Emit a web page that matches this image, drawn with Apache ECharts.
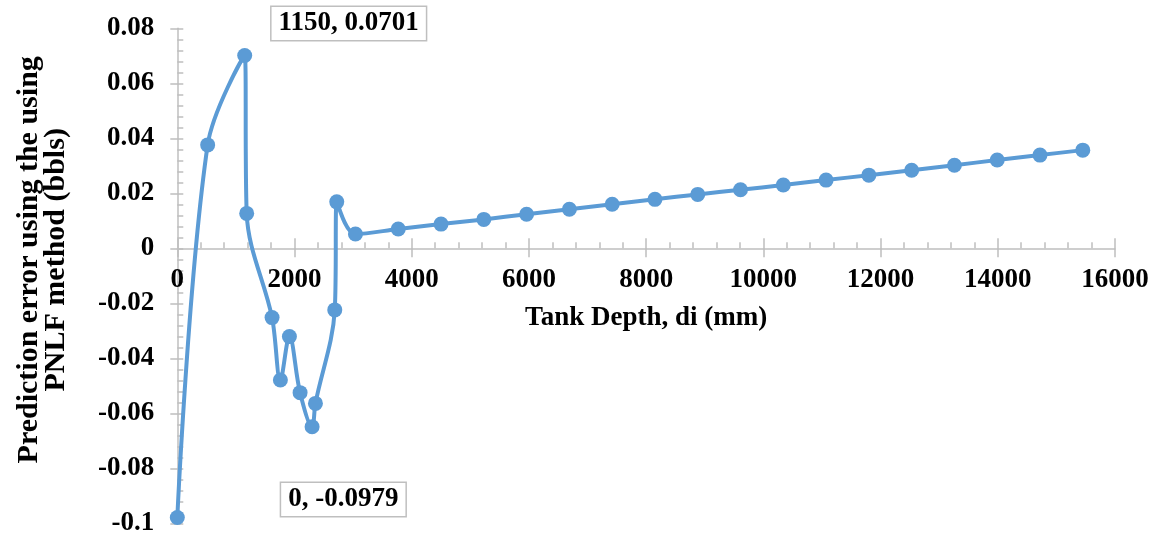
<!DOCTYPE html>
<html>
<head>
<meta charset="utf-8">
<script src="https://cdn.jsdelivr.net/npm/echarts@6/dist/echarts.min.js"></script>
<style>html,body{margin:0;padding:0;background:#fff;}#c{width:1152px;height:535px;}</style>
</head>
<body>
<div id="c"></div>
<script>
var depths = [0, 518, 1150, 1184, 1617, 1759, 1913, 2095, 2300, 2357, 2687, 2721, 3040, 3770, 4500, 5230, 5960, 6690, 7420, 8150, 8880, 9610, 10340, 11070, 11800, 12530, 13260, 13990, 14720, 15450];
var errors = [-0.0979, 0.0376, 0.0701, 0.0127, -0.0252, -0.0479, -0.0321, -0.0525, -0.0649, -0.0564, -0.0224, 0.0169, 0.0052, 0.0070, 0.0088, 0.0105, 0.0124, 0.0142, 0.0160, 0.0178, 0.0196, 0.0213, 0.0230, 0.0248, 0.0266, 0.0284, 0.0302, 0.0321, 0.0339, 0.0357];
var labelledIdx = [2, 0];
var labelTexts = ['1150, 0.0701', '0, -0.0979'];

var FONT = 'Liberation Serif';
var FS = 27;
var labelOffsets = {2: [104, -32], 0: [166, -18]};
var data = depths.map(function (d, i) {
  var item = {value: [d, errors[i]]};
  var k = labelledIdx.indexOf(i);
  if (k >= 0) {
    item.label = {
      show: true, position: 'inside', offset: labelOffsets[i],
      formatter: labelTexts[k],
      fontFamily: FONT, fontWeight: 'bold', fontSize: FS, color: '#000',
      backgroundColor: '#fff', borderColor: '#BFBFBF', borderWidth: 1.5,
      padding: [4, 7, 2, 7]
    };
  }
  return item;
});

var axisGray = '#BFBFBF';
var GRID_TOP = 28.3, GRID_BOTTOM = 11.7;
var YMIN = -0.1, YMAX = 0.08;
var gridH = 535 - GRID_TOP - GRID_BOTTOM;
var zeroShift = -gridH * (0 - YMIN) / (YMAX - YMIN);

var chart = echarts.init(document.getElementById('c'));
chart.setOption({
  animation: false,
  grid: {left: 177.3, right: 37, top: GRID_TOP, bottom: GRID_BOTTOM, containLabel: false, outerBoundsMode: 'none'},
  xAxis: [{
    type: 'value', min: 0, max: 16000, interval: 2000, position: 'bottom', offset: zeroShift,
    name: 'Tank Depth, di (mm)', nameLocation: 'middle', nameGap: 56,
    nameTextStyle: {fontFamily: FONT, fontWeight: 'bold', fontSize: FS, color: '#000'},
    axisLine: {show: true, onZero: false, lineStyle: {color: axisGray, width: 1.5}},
    axisTick: {show: true, inside: false, length: 9, lineStyle: {color: axisGray, width: 1.5}},
    minorTick: {show: false},
    axisLabel: {margin: 18, fontFamily: FONT, fontWeight: 'bold', fontSize: FS, color: '#000',
      formatter: function (v) { return String(v); }},
    splitLine: {show: false}
  }, {
    type: 'value', min: 0, max: 16000, interval: 2000, position: 'bottom', offset: zeroShift,
    axisLine: {show: false, onZero: false},
    axisTick: {show: true, inside: true, length: 10, lineStyle: {color: axisGray, width: 1.5}},
    minorTick: {show: true, splitNumber: 5, length: 6, lineStyle: {color: axisGray, width: 1.5}},
    axisLabel: {show: false},
    splitLine: {show: false}
  }],
  yAxis: [{
    type: 'value', min: YMIN, max: YMAX, interval: 0.02, position: 'left',
    name: 'Prediction error using the using\nPNLF method (bbls)', nameLocation: 'middle', nameGap: 108,
    nameRotate: 90,
    nameTextStyle: {fontFamily: FONT, fontWeight: 'bold', fontSize: 30, color: '#000', lineHeight: 27,
      padding: [0, 0, 0, 32]},
    axisLine: {show: true, onZero: false, lineStyle: {color: axisGray, width: 1.5}},
    axisTick: {show: true, inside: false, length: 7, lineStyle: {color: axisGray, width: 1.5}},
    minorTick: {show: false},
    axisLabel: {margin: 23, fontFamily: FONT, fontWeight: 'bold', fontSize: FS, color: '#000',
      formatter: function (v) { return String(+v.toFixed(2)); }},
    splitLine: {show: false}
  }, {
    type: 'value', min: YMIN, max: YMAX, interval: 0.02, position: 'left', offset: 0,
    axisLine: {show: false, onZero: false},
    axisTick: {show: true, inside: true, length: 6, lineStyle: {color: axisGray, width: 1.5}},
    minorTick: {show: true, splitNumber: 5, length: 6, lineStyle: {color: axisGray, width: 1.5}},
    axisLabel: {show: false},
    splitLine: {show: false}
  }],
  series: [{
    type: 'line', xAxisIndex: 0, yAxisIndex: 0,
    data: data,
    smooth: 0.35,
    symbol: 'circle', symbolSize: 15,
    lineStyle: {color: '#5B9BD5', width: 4},
    itemStyle: {color: '#5B9BD5'},
    label: {show: false},
    clip: false,
    z: 3
  }]
});
</script>
</body>
</html>
